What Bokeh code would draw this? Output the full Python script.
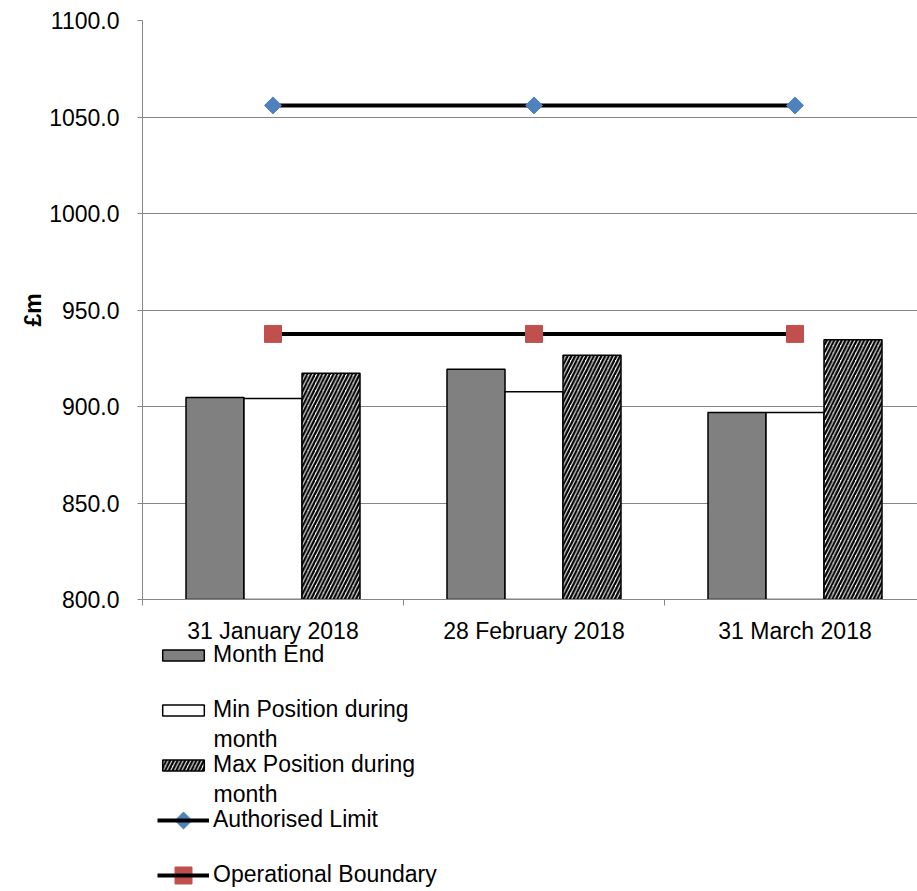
import math
import numpy as np
from bokeh.plotting import figure
from bokeh.layouts import column
from bokeh.models import (Range1d, FixedTicker, NumeralTickFormatter, Legend,
                          LegendItem, Label, ColumnDataSource)
from bokeh.core.properties import value
from bokeh.embed import file_html
from bokeh.resources import INLINE

# ---- data ----
categories = ["31 January 2018", "28 February 2018", "31 March 2018"]
month_end = [904.6, 919.3, 896.9]
min_position = [904.2, 907.6, 896.9]
max_position = [917.2, 926.5, 934.6]
authorised_limit = [1056.0, 1056.0, 1056.0]
operational_boundary = [937.6, 937.6, 937.6]
y_ticks = [800, 850, 900, 950, 1000, 1050, 1100]

FONT = "Liberation Sans"
FS = "23px"
GRID = "#868686"
BLUE = "#4F81BD"
RED = "#C0504D"

W, H = 917, 891
PH = 614                      # height of the chart part
LH = H - PH                   # height of the strip below (category labels + legend)

cat_pos = np.arange(len(categories)) + 0.5
cat_bounds = list(range(len(categories) + 1))
bar_w = 58 / 261

src = ColumnDataSource(dict(
    x=cat_pos,
    x_me=cat_pos - bar_w,
    x_min=cat_pos,
    x_max=cat_pos + bar_w,
    month_end=month_end,
    min_position=min_position,
    max_position=max_position,
    authorised=authorised_limit,
    operational=operational_boundary,
))

BAR_ME = dict(fill_color="#808080", line_color="black", line_width=1.5)
BAR_MIN = dict(fill_color="white", line_color="black", line_width=1.5)
BAR_MAX = dict(fill_color="white", line_color="black", line_width=1.5,
               hatch_pattern="/", hatch_color="black", hatch_scale=7.5, hatch_weight=2.3)

x_end = 775 / 261
p = figure(width=W, height=PH, output_backend="svg", toolbar_location=None,
           x_range=Range1d(0, x_end), y_range=Range1d(800, 1100),
           min_border_left=142, min_border_right=0, min_border_top=20,
           min_border_bottom=PH - 599)
p.outline_line_color = None
p.background_fill_color = "white"
p.border_fill_color = "white"

# grid
p.xgrid.grid_line_color = None
p.ygrid.grid_line_color = GRID
p.ygrid.grid_line_width = 1
p.ygrid.ticker = FixedTicker(ticks=y_ticks)

# y axis
p.yaxis.ticker = FixedTicker(ticks=y_ticks)
p.yaxis.formatter = NumeralTickFormatter(format="0.0")
p.yaxis.axis_line_color = GRID
p.yaxis.major_tick_line_color = GRID
p.yaxis.major_tick_out = 5
p.yaxis.major_tick_in = 0
p.yaxis.minor_tick_line_color = None
p.yaxis.major_label_standoff = 18
p.yaxis.major_label_text_font = FONT
p.yaxis.major_label_text_font_size = FS
p.yaxis.major_label_text_color = "black"
p.yaxis.axis_label = "£m"
p.yaxis.axis_label_text_font = FONT
p.yaxis.axis_label_text_font_size = FS
p.yaxis.axis_label_text_font_style = "bold"
p.yaxis.axis_label_text_color = "black"
p.yaxis.axis_label_standoff = 0

# x axis: only the line and the category-boundary tick marks (labels drawn below)
p.xaxis.ticker = FixedTicker(ticks=[], minor_ticks=cat_bounds)
p.xaxis.axis_line_color = GRID
p.xaxis.major_tick_line_color = None
p.xaxis.minor_tick_line_color = GRID
p.xaxis.minor_tick_out = 6
p.xaxis.minor_tick_in = 0
p.xaxis.major_label_standoff = 0

# bars
p.vbar(x="x_me", top="month_end", bottom=800, width=bar_w, source=src, **BAR_ME)
p.vbar(x="x_min", top="min_position", bottom=800, width=bar_w, source=src, **BAR_MIN)
p.vbar(x="x_max", top="max_position", bottom=800, width=bar_w, source=src, **BAR_MAX)

# lines
p.line(x="x", y="authorised", source=src, line_color="black", line_width=4)
p.scatter(x="x", y="authorised", source=src, marker="square", angle=math.pi / 4,
          size=12, fill_color=BLUE, line_color=BLUE)
p.line(x="x", y="operational", source=src, line_color="black", line_width=4)
p.scatter(x="x", y="operational", source=src, marker="square",
          size=17, fill_color=RED, line_color=RED)

# ---- strip below: category labels and legend ----
lf = figure(width=W, height=LH, output_backend="svg", toolbar_location=None,
            x_range=Range1d(0, x_end), y_range=Range1d(0, LH),
            min_border_left=142, min_border_right=0,
            min_border_top=0, min_border_bottom=0)
lf.axis.visible = False
lf.grid.visible = False
lf.outline_line_color = None
lf.background_fill_color = "white"
lf.border_fill_color = "white"

lf.text(x=cat_pos, y=[H - 630] * len(categories), text=categories,
        text_align="center", text_baseline="middle",
        text_font=value(FONT), text_font_size=FS, text_color="black")

# hidden renderers that only feed the legend
lr_me = lf.vbar(x="x_me", top="month_end", bottom=800, width=bar_w, source=src,
                visible=False, **BAR_ME)
lr_min = lf.vbar(x="x_min", top="min_position", bottom=800, width=bar_w, source=src,
                 visible=False, **BAR_MIN)
lr_max = lf.vbar(x="x_max", top="max_position", bottom=800, width=bar_w, source=src,
                 visible=False, **BAR_MAX)
ll_auth = lf.line(x="x", y="authorised", source=src, line_color="black", line_width=4,
                  visible=False)
ll_op = lf.line(x="x", y="operational", source=src, line_color="black", line_width=4,
                visible=False)


def add_legend(label, renderers, center_y):
    lg = Legend(items=[LegendItem(label=label, renderers=renderers)],
                location=(15, H - (center_y + 13)), glyph_width=52, glyph_height=14,
                label_height=26, padding=0, margin=0, spacing=0,
                border_line_color=None, background_fill_alpha=0,
                inactive_fill_alpha=0,
                label_text_font=FONT, label_text_font_size=FS,
                label_text_color="black", label_standoff=4)
    lf.add_layout(lg)


add_legend("Month End", [lr_me], 655)
add_legend("Min Position during", [lr_min], 710)
add_legend("Max Position during", [lr_max], 765)
add_legend("Authorised Limit", [ll_auth], 820)
add_legend("Operational Boundary", [ll_op], 875)

# legend markers drawn over the legend lines
leg_x = (183 - 142) / 261
lf.scatter(x=[leg_x], y=[H - 820], marker="square", angle=math.pi / 4, size=12,
           fill_color=BLUE, line_color=BLUE, level="overlay")
lf.scatter(x=[leg_x], y=[H - 875], marker="square", size=17,
           fill_color=RED, line_color=RED, level="overlay")

for cy in (738, 793):
    lf.add_layout(Label(x=71, y=H - cy, x_units="screen", y_units="screen", text="month",
                        text_baseline="middle", text_font=FONT, text_font_size=FS,
                        text_color="black"))

layout = column(p, lf, spacing=0)
open("out.html", "w").write(file_html(layout, INLINE))
